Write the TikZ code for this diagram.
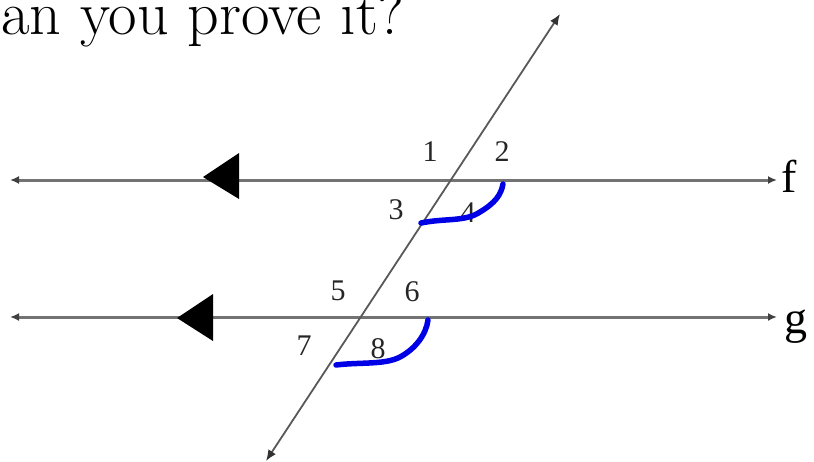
\documentclass[tikz,border=0pt]{standalone}
\usepackage{fontspec}
\newfontfamily\timesf{Liberation Serif}
\usetikzlibrary{arrows.meta}
\begin{document}
\begin{tikzpicture}[x=1pt,y=-1pt,
  parline/.style={draw=black!55,line width=3pt,{Latex[length=9pt,width=8pt,black!75]}-{Latex[length=9pt,width=8pt,black!75]}},
  transv/.style={draw=black!65,line width=1.8pt,{Latex[length=11pt,width=9pt,black!80]}-{Latex[length=11pt,width=9pt,black!80]}},
  num/.style={font=\timesf\fontsize{30}{32}\selectfont,text=black!85,inner sep=0pt},
  lname/.style={font=\timesf\fontsize{46}{50}\selectfont,inner sep=0pt,anchor=west},
  blue mark/.style={draw={rgb,255:red,0;green,0;blue,230},line width=5.5pt,line cap=round,line join=round},
  bigtri/.style={fill=black,draw=none}]
\useasboundingbox (0,0) rectangle (814,461);
\fill[white] (0,0) rectangle (814,461);
\begin{scope}
\clip (0,0) rectangle (814,461);
\node[anchor=base east,inner sep=0pt,font=\fontsize{62}{64}\selectfont] (title) at (405,34) {an you prove it?};
\end{scope}
% line ends
\coordinate (fL) at (10,180);
\coordinate (fR) at (777,180);
\coordinate (gL) at (10,317);
\coordinate (gR) at (777,317);
\coordinate (tB) at (266,461);
\coordinate (tT) at (560,14);
\draw[parline] (fL) -- (fR);
\draw[parline] (gL) -- (gR);
\draw[transv] (tB) -- (tT);
% parallel markers
\fill[bigtri] (203,177) -- (239,153) -- (239,199) -- cycle;
\fill[bigtri] (177,318) -- (213,294) -- (213,341) -- cycle;
% labels
\node[num] (n1) at (430,152) {1};
\node[num] (n2) at (502,152) {2};
\node[num] (n3) at (396,210) {3};
\node[num] (n4) at (468,213) {4};
\node[num] (n5) at (338,291) {5};
\node[num] (n6) at (412,292) {6};
\node[num] (n7) at (304,346) {7};
\node[num] (n8) at (378,349) {8};
\node[lname] (f) at (781,176) {f};
\node[lname] (g) at (784,327) {g};
% blue marks
\draw[blue mark] (421,223) .. controls (445,218) and (465,222) .. (480,212)
  .. controls (495,203) and (501,195) .. (503,184);
\draw[blue mark] (336,365) .. controls (360,362) and (385,365) .. (400,357)
  .. controls (415,349) and (426,335) .. (428,320);
\end{tikzpicture}
\end{document}
